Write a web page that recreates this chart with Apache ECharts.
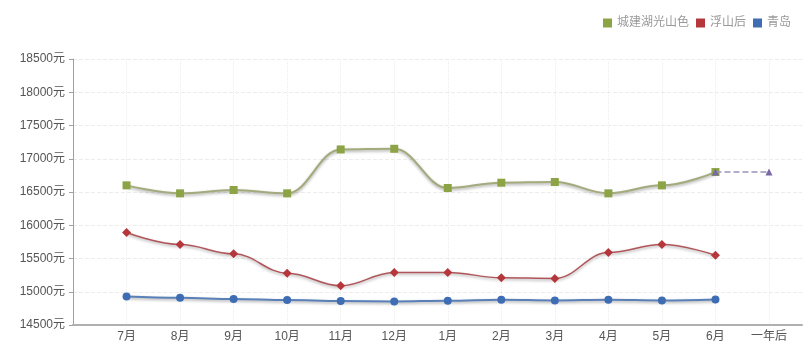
<!DOCTYPE html>
<html>
<head>
<meta charset="utf-8">
<script src="https://cdn.jsdelivr.net/npm/echarts@6/dist/echarts.min.js"></script>
<style>
  html, body { margin: 0; padding: 0; background: #fff; }
  #chart { width: 810px; height: 347px; }
</style>
</head>
<body>
<div id="chart"></div>
<script>
// Month categories; the leading blank slot sits on the y axis
const months = ['', '7月', '8月', '9月', '10月', '11月', '12月', '1月', '2月', '3月', '4月', '5月', '6月', '一年后'];

// Average price per square metre (元)
const chengjian = [null, 16600, 16480, 16530, 16480, 17140, 17150, 16560, 16640, 16650, 16480, 16600, 16800, null];
const fushanhou = [null, 15890, 15710, 15570, 15280, 15090, 15290, 15290, 15210, 15200, 15590, 15710, 15550, null];
const qingdao   = [null, 14930, 14910, 14890, 14875, 14860, 14855, 14865, 14880, 14870, 14880, 14870, 14885, null];
// Projection one year ahead
const forecast  = [null, null, null, null, null, null, null, null, null, null, null, null, 16800, 16800];

const yMin = 14500, yMax = 18500, yStep = 500;

const font = "'Liberation Sans', 'Noto Sans CJK SC', sans-serif";
const lineShadow = { shadowColor: 'rgba(0,0,0,0.35)', shadowBlur: 3, shadowOffsetY: 1.5 };

const chart = echarts.init(document.getElementById('chart'));
chart.setOption({
  animation: false,
  backgroundColor: '#fff',
  textStyle: { fontFamily: font },
  legend: {
    data: ['城建湖光山色', '浮山后', '青岛'],
    right: 14, top: 12,
    icon: 'rect', itemWidth: 9, itemHeight: 9, itemGap: 7,
    textStyle: { color: '#999', fontSize: 12, fontFamily: font }
  },
  grid: [
    { left: 73, right: 41, top: 59, bottom: 22 },
    { left: 73, right: 8, top: 59, bottom: 22 }
  ],
  xAxis: [
    {
      type: 'category', gridIndex: 0, data: months, boundaryGap: false,
      axisLine: { show: false },
      axisTick: { show: false },
      axisLabel: { color: '#555', fontSize: 12, margin: 6, fontFamily: font },
      splitLine: { show: true, lineStyle: { color: '#eeeeee', type: 'dotted', width: 1 } }
    },
    {
      type: 'value', gridIndex: 1, min: 0, max: 1,
      axisLine: { show: true, lineStyle: { color: '#b0b0b0', width: 2 } },
      axisTick: { show: false }, axisLabel: { show: false }, splitLine: { show: false }
    }
  ],
  yAxis: [
    { type: 'value', gridIndex: 0, min: yMin, max: yMax, interval: yStep, show: false },
    {
      type: 'value', gridIndex: 1, min: yMin, max: yMax, interval: yStep,
      axisLine: { show: true, lineStyle: { color: '#a0a0a0', width: 1 } },
      axisTick: { show: true, length: 4, lineStyle: { color: '#a0a0a0' } },
      axisLabel: {
        color: '#555', fontSize: 12, margin: 8, fontFamily: font,
        formatter: function (v) { return String(v) + '元'; }
      },
      splitLine: { show: true, lineStyle: { color: '#ececec', type: 'dashed', width: 1 } }
    }
  ],
  series: [
    {
      name: '城建湖光山色', type: 'line', xAxisIndex: 0, yAxisIndex: 0,
      data: chengjian, smooth: 0.4, smoothMonotone: 'x',
      symbol: 'rect', symbolSize: 8,
      itemStyle: { color: '#8ca446' },
      lineStyle: Object.assign({ color: '#a4aa7c', width: 2 }, lineShadow),
      z: 3
    },
    {
      name: '浮山后', type: 'line', xAxisIndex: 0, yAxisIndex: 0,
      data: fushanhou, smooth: 0.4, smoothMonotone: 'x',
      symbol: 'diamond', symbolSize: 9,
      itemStyle: { color: '#b5373c' },
      lineStyle: Object.assign({ color: '#b0555a', width: 1.5 }, lineShadow),
      z: 3
    },
    {
      name: '青岛', type: 'line', xAxisIndex: 0, yAxisIndex: 0,
      data: qingdao, smooth: 0.4, smoothMonotone: 'x',
      symbol: 'circle', symbolSize: 8,
      itemStyle: { color: '#3e6db3' },
      lineStyle: Object.assign({ color: '#5a80b8', width: 2 }, lineShadow),
      z: 3
    },
    {
      name: '一年后', type: 'line', xAxisIndex: 0, yAxisIndex: 0,
      data: forecast,
      symbol: 'triangle', symbolSize: 7,
      itemStyle: { color: '#7a68a6' },
      lineStyle: { color: '#9a92b8', width: 1.5, type: 'dashed' },
      z: 4
    }
  ]
});
</script>
</body>
</html>
